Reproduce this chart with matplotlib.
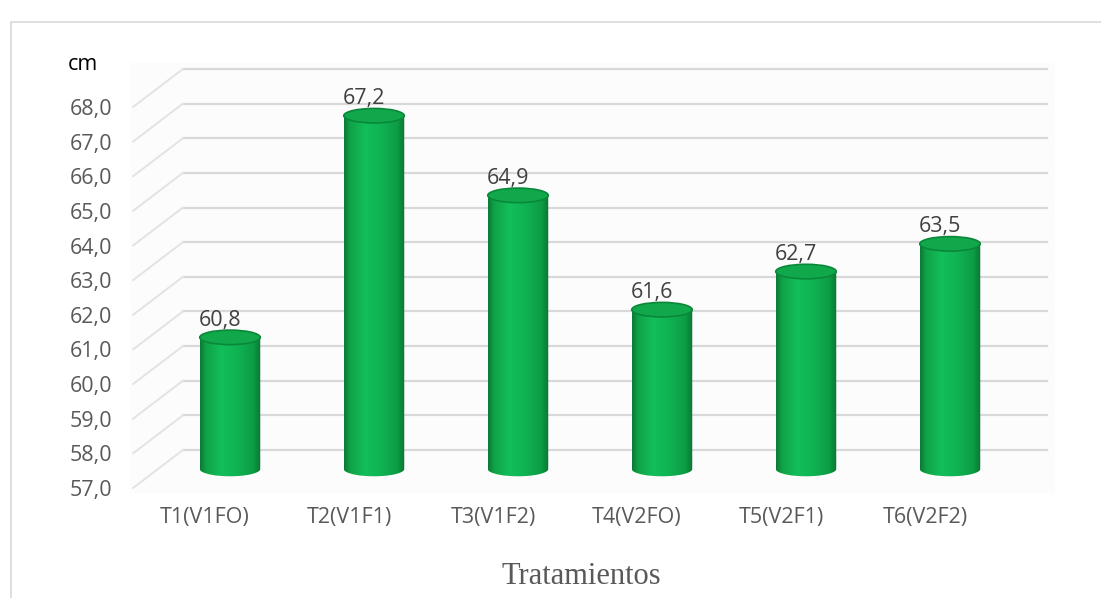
import matplotlib
matplotlib.use("Agg")
import numpy as np
import matplotlib.pyplot as plt
from matplotlib.colors import LinearSegmentedColormap
from matplotlib.patches import Ellipse, PathPatch, Rectangle
from matplotlib.path import Path
from matplotlib.transforms import ScaledTranslation

# Altura de planta por tratamiento (cm)
tratamientos = ["T1(V1FO)", "T2(V1F1)", "T3(V1F2)", "T4(V2FO)", "T5(V2F1)", "T6(V2F2)"]
altura = [60.8, 67.2, 64.9, 61.6, 62.7, 63.5]
y_min, y_max = 57, 68

gris = "#595959"
fuente = "Open Sans"


def coma(v):
    return f"{v:.1f}".replace(".", ",")


fig = plt.figure(figsize=(11.01, 5.98), dpi=100)

# marco del grafico y fondo del area de trazado
fig.add_artist(Rectangle((11 / 1101, -0.01), 1.1, (598 - 22) / 598 + 0.01,
                         transform=fig.transFigure, fill=False,
                         ec="#d9d9d9", lw=1.2, zorder=-2))
fig.add_artist(Rectangle((130 / 1101, (598 - 493) / 598), 925 / 1101, 430 / 598,
                         transform=fig.transFigure, fc="#fcfcfc", ec="none",
                         zorder=-1))

ax = fig.add_axes([133 / 1101, 110 / 598, 864 / 1101, 381 / 598])
ax.set_xlim(-0.5, len(tratamientos) - 0.5)
ax.set_ylim(y_min, y_max)
for s in ax.spines.values():
    s.set_visible(False)
ax.patch.set_alpha(0)

# desplazamientos de profundidad (pared del fondo y plano de las barras)
fondo = ax.transData + ScaledTranslation(0.50, 0.38, fig.dpi_scale_trans)
medio = ax.transData + ScaledTranslation(0.25, 0.19, fig.dpi_scale_trans)

# lineas de division en perspectiva
for v in range(y_min, y_max + 1):
    ax.plot([-0.5, len(tratamientos) - 0.5], [v, v], color="#d9d9d9", lw=1.6,
            transform=fondo, clip_on=False, zorder=1)
    ax.annotate("", xy=(-0.5, v), xytext=(36, 27.4), textcoords="offset points",
                arrowprops=dict(arrowstyle="-", color="#e3e3e3", lw=1.4,
                                shrinkA=0, shrinkB=0), zorder=1)

# cilindros
verde = LinearSegmentedColormap.from_list("verde", [
    (0.0, "#0a7a33"), (0.10, "#10a246"), (0.35, "#12bf5a"),
    (0.60, "#10b353"), (0.88, "#0d9c45"), (1.0, "#097632")])
grad = np.linspace(0, 1, 256).reshape(1, -1)
ancho = 0.42
elip = 0.42
t = np.linspace(np.pi, 2 * np.pi, 60)

for i, v in enumerate(altura):
    xs = list(i + ancho / 2 * np.cos(t)) + [i + ancho / 2, i - ancho / 2]
    ys = list(y_min + elip / 2 * np.sin(t)) + [v, v]
    cuerpo = PathPatch(Path(np.column_stack([xs, ys]), closed=False),
                       fc="none", ec="none", transform=medio)
    ax.add_patch(cuerpo)
    im = ax.imshow(grad, extent=[i - ancho / 2, i + ancho / 2, y_min - elip, v],
                   cmap=verde, aspect="auto", transform=medio, zorder=3)
    im.set_clip_path(cuerpo)
    ax.add_patch(Ellipse((i, v), ancho, elip, transform=medio, fc="#10a84b",
                         ec="#0b873a", lw=1.2, zorder=4))
    ax.text(i, v, coma(v), transform=medio + ScaledTranslation(-0.10, 0.17, fig.dpi_scale_trans),
            ha="center", va="center", fontsize=15.5, color="#404040",
            family=fuente, zorder=5)

ax.set_xlim(-0.5, len(tratamientos) - 0.5)
ax.set_ylim(y_min, y_max)

ax.set_yticks(range(y_min, y_max + 1))
ax.set_yticklabels([coma(v) for v in range(y_min, y_max + 1)],
                   fontsize=15.5, color=gris, family=fuente)
ax.set_xticks(range(len(tratamientos)))
ax.set_xticklabels(tratamientos, fontsize=15.5, color=gris, family=fuente)
ax.tick_params(axis="y", length=0, pad=15)
ax.tick_params(axis="x", length=0, pad=14)

fig.text(83 / 1101, 1 - 64 / 598, "cm", ha="center", va="center",
         fontsize=15.5, color="black", family=fuente)
fig.text(581 / 1101, 1 - 577 / 598, "Tratamientos", ha="center", va="center",
         fontsize=22, color=gris, family="Liberation Serif")

fig.savefig("out.png", dpi=100)
